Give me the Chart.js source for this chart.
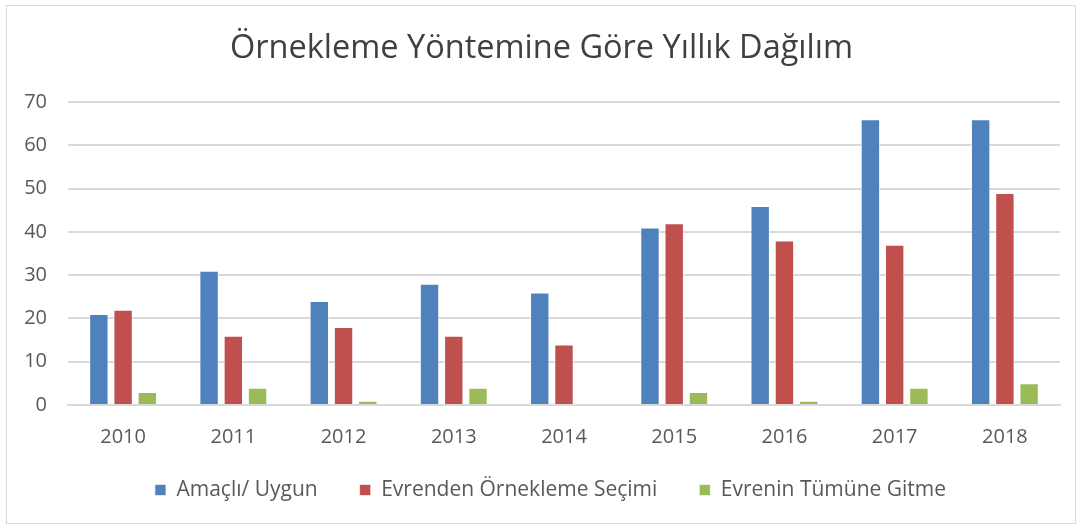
<!DOCTYPE html>
<html>
<head>
<meta charset="utf-8">
<script src="https://cdn.jsdelivr.net/npm/chart.js@4.4.1/dist/chart.umd.min.js"></script>
<style>
  body { margin: 0; background: #fff; }
  #wrap {
    position: absolute; left: 6px; top: 5px;
    width: 1070px; height: 519px;
    border: 1px solid #d9d9d9; box-sizing: border-box;
  }
</style>
</head>
<body>
<div id="wrap"><canvas id="chart"></canvas></div>
<script>
const years = ["2010", "2011", "2012", "2013", "2014", "2015", "2016", "2017", "2018"];
const amacli = [21, 31, 24, 28, 26, 41, 46, 66, 66];
const evrenden = [22, 16, 18, 16, 14, 42, 38, 37, 49];
const evrenin = [3, 4, 1, 4, 0, 3, 1, 4, 5];
const yTicks = [0, 10, 20, 30, 40, 50, 60, 70];

const fontFam = "'Open Sans', sans-serif";
const textCol = "#595959";

function makeSet(label, data, color) {
    return {
        label: label,
        data: data,
        backgroundColor: color,
        borderColor: "rgba(255,255,255,0.6)",
        borderWidth: 1,
        categoryPercentage: 0.66,
        barPercentage: 0.8,
    };
}

// legend padding is shared between x and y, so nudge it after layout
const legendNudge = {
    id: "legendNudge",
    afterLayout(chart) {
        chart.legend.top -= 11.5;
        chart.legend.bottom -= 11.5;
        chart.legend.left += 9;
        chart.legend.right += 9;
    },
};

new Chart(document.getElementById("chart"), {
    type: "bar",
    data: {
        labels: years,
        datasets: [
            makeSet("Amaçlı/ Uygun", amacli, "#4f81bd"),
            makeSet("Evrenden Örnekleme Seçimi", evrenden, "#c0504d"),
            makeSet("Evrenin Tümüne Gitme", evrenin, "#9bbb59"),
        ],
    },
    options: {
        responsive: true,
        maintainAspectRatio: false,
        animation: false,
        layout: { padding: { top: 20, left: 16, right: 15, bottom: 1 } },
        plugins: {
            title: {
                display: true,
                text: "Örnekleme Yöntemine Göre Yıllık Dağılım",
                color: "#404040",
                font: { family: fontFam, size: 32.5, weight: "normal" },
                padding: { top: 3, bottom: 34 },
            },
            legend: {
                position: "bottom",
                labels: {
                    color: textCol,
                    font: { family: fontFam, size: 21 },
                    boxWidth: 11,
                    boxHeight: 11,
                    padding: 42,
                },
            },
            tooltip: { enabled: false },
        },
        scales: {
            x: {
                grid: { display: false, drawTicks: false },
                border: { color: "#d9d9d9", width: 2 },
                ticks: { color: textCol, font: { family: fontFam, size: 20 }, padding: 20 },
                afterFit: (s) => { s.height = 44; },
            },
            y: {
                min: 0,
                max: 70,
                afterBuildTicks: (axis) => { axis.ticks = yTicks.map((v) => ({ value: v })); },
                grid: { color: "#d9d9d9", lineWidth: 2, drawTicks: false },
                border: { display: false },
                ticks: { color: textCol, font: { family: fontFam, size: 20 }, padding: 21 },
                afterFit: (s) => { s.width = 45; },
            },
        },
    },
    plugins: [legendNudge],
});
</script>
</body>
</html>
